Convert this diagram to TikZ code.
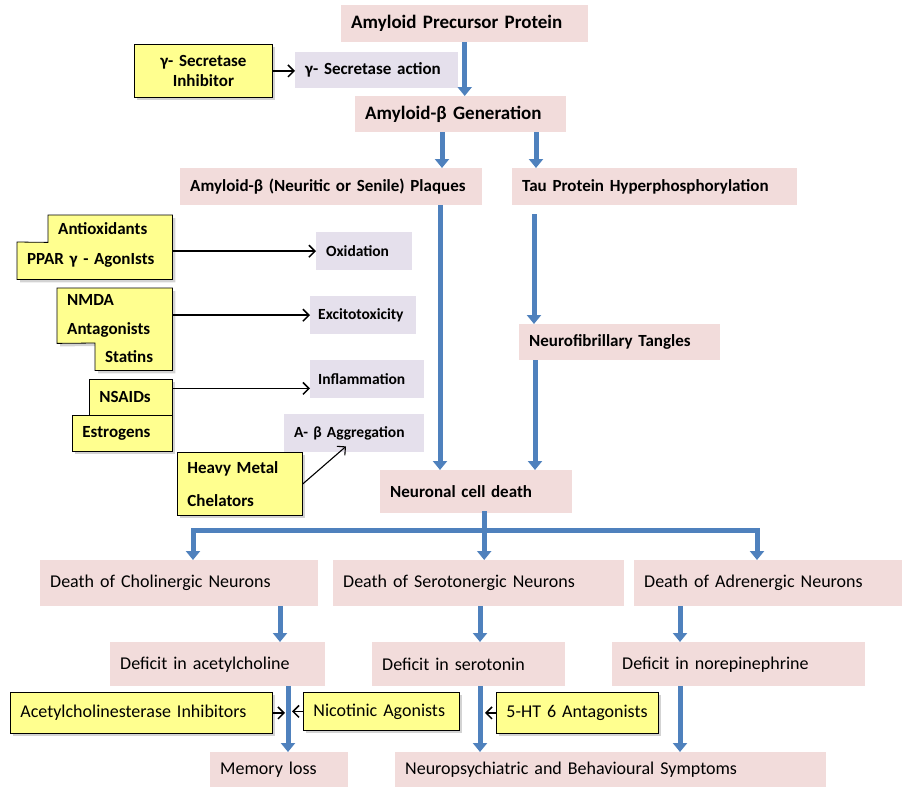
\documentclass[tikz,border=0pt]{standalone}
\usepackage{fontspec}
\setmainfont{Carlito}
\usetikzlibrary{arrows.meta,shadows,backgrounds}
\definecolor{boxpink}{HTML}{F2DCDB}
\definecolor{boxlav}{HTML}{E5E0EC}
\definecolor{boxyel}{HTML}{FFFF8F}
\definecolor{flowblue}{HTML}{4F81BD}
\tikzset{
  every picture/.style={font={\fontsize{17}{20}\selectfont\bfseries}, >={Straight Barb[length=6pt,width=12pt]}}}

\begin{document}
\begin{tikzpicture}[x=1pt, y=-1pt,
    every node/.style={anchor=north west, inner xsep=10pt, inner ysep=0pt, align=left},
    pinkbox/.style={fill=boxpink},
    lavbox/.style={fill=boxlav, font={\fontsize{15.5}{18}\selectfont\bfseries}},
    yelbox/.style={fill=boxyel, draw=black, line width=0.8pt,
      drop shadow={shadow xshift=3pt, shadow yshift=-3pt, opacity=0.35}},
    lowtext/.style={font={\fontsize{18}{21}\selectfont}},
    flow/.style={draw=flowblue, line width=5pt, -{Triangle[width=14pt,length=9pt]}},
    flowbar/.style={draw=flowblue, line width=5pt, line cap=rect},
    link/.style={draw=black, line width=1.5pt, ->}]

    \useasboundingbox (0,0) rectangle (902,787);

    \node[pinkbox, text width=227pt, minimum height=37pt, font={\fontsize{19}{22}\selectfont\bfseries}] (app) at (341,5) {Amyloid Precursor Protein};
    \node[lavbox, text width=143pt, minimum height=36pt, font={\fontsize{17}{20}\selectfont\bfseries}] (gsa) at (295,52) {γ- Secretase action};
    \node[yelbox, text width=118pt, minimum height=53pt, align=center] (gsi) at (134,44) {γ- Secretase\\Inhibitor};
    \node[pinkbox, text width=191pt, minimum height=36pt, font={\fontsize{19}{22}\selectfont\bfseries}] (gen) at (355,96) {Amyloid-β Generation};
    \node[pinkbox, text width=282pt, minimum height=37pt] (plq) at (180,168) {Amyloid-β (Neuritic or Senile) Plaques};
    \node[pinkbox, text width=265pt, minimum height=37pt] (tau) at (512,168) {Tau Protein Hyperphosphorylation};
    \node[pinkbox, text width=181pt, minimum height=36pt] (tangle) at (519,324) {Neurofibrillary Tangles};
    \node[pinkbox, text width=172pt, minimum height=43pt] (ncd) at (380,470) {Neuronal cell death};

    \node[lavbox, text width=76pt, minimum height=38pt] (ox) at (316,232) {Oxidation};
    \node[lavbox, inner xsep=8pt, text width=90pt, minimum height=38pt] (exc) at (310,296) {Excitotoxicity};
    \node[lavbox, inner xsep=8pt, text width=98pt, minimum height=38pt] (infl) at (310,360) {Inflammation};
    \node[lavbox, text width=120pt, minimum height=38pt] (agg) at (284,414) {A- β Aggregation};

    \node[text width=104pt, minimum height=27pt] (antiox) at (48,215) {Antioxidants};
    \node[text width=135pt, minimum height=37pt] (ppar) at (17,242) {PPAR γ - AgonIsts};
    \node[text width=95pt, minimum height=55pt, font={\fontsize{17}{29}\selectfont\bfseries}] (nmda) at (57,288) {NMDA\\Antagonists};
    \node[text width=57pt, minimum height=27pt] (statins) at (95,343) {Statins};
    \begin{scope}[on background layer]
      \draw[yelbox] (antiox.north west) -| (ppar.south east) -| (ppar.north west) -- (antiox.south west) -- cycle;
      \draw[yelbox] (nmda.north west) -| (statins.south east) -| (statins.north west) -- (nmda.south west) -- cycle;
    \end{scope}
    \node[yelbox, text width=63pt, minimum height=36pt] (nsaid) at (89,379) {NSAIDs};
    \node[yelbox, text width=80pt, minimum height=36pt] (estro) at (72,415) {Estrogens};
    \node[yelbox, text width=105pt, minimum height=63pt, font={\fontsize{17}{33}\selectfont\bfseries}] (hmc) at (177,452) {Heavy Metal\\Chelators};

    \node[pinkbox, lowtext, text width=258pt, minimum height=46pt] (dchol) at (40,560) {Death of Cholinergic Neurons};
    \node[pinkbox, lowtext, text width=271pt, minimum height=46pt] (dser) at (333,560) {Death of Serotonergic Neurons};
    \node[pinkbox, lowtext, text width=248pt, minimum height=46pt] (dadr) at (634,560) {Death of Adrenergic Neurons};
    \node[pinkbox, lowtext, text width=195pt, minimum height=44pt] (dach) at (110,642) {Deficit in acetylcholine};
    \node[pinkbox, lowtext, text width=173pt, minimum height=44pt] (dsero) at (372,642) {Deficit in serotonin};
    \node[pinkbox, lowtext, text width=233pt, minimum height=44pt] (dnor) at (612,642) {Deficit in norepinephrine};
    \node[pinkbox, lowtext, text width=118pt, minimum height=35pt] (memory) at (210,752) {Memory loss};
    \node[pinkbox, lowtext, text width=411pt, minimum height=35pt] (neuro) at (395,752) {Neuropsychiatric and Behavioural Symptoms};
    \node[yelbox, lowtext, text width=242pt, minimum height=41pt] (ache) at (10,692) {Acetylcholinesterase Inhibitors};
    \node[yelbox, lowtext, text width=136pt, minimum height=38pt] (nic) at (303,692) {Nicotinic Agonists};
    \node[yelbox, lowtext, text width=142pt, minimum height=41pt] (ht) at (496,692) {5-HT 6 Antagonists};

    \draw[flow] (app.south) -- (app.south |- gen.north);
    \draw[link] (gsi.east) -- (gsi.east -| gsa.west);
    \draw[flow] ([xshift=87pt]gen.south west) -- ([xshift=87pt]gen.south west |- plq.north);
    \draw[flow] ([xshift=181pt]gen.south west) -- ([xshift=181pt]gen.south west |- tau.north);
    \draw[flow] ([xshift=260pt]plq.south west) -- ([xshift=260pt]plq.south west |- ncd.north);
    \coordinate (tauout) at ([yshift=-9pt]tau.south);
    \draw[flow] ([xshift=15pt]tangle.north west |- tauout) -- ([xshift=15pt]tangle.north west);
    \draw[flow] ([xshift=16pt]tangle.south west) -- ([xshift=16pt]tangle.south west |- ncd.north);

    \draw[link] (ox.west -| ppar.east) -- (ox.west);
    \draw[link] (exc.west -| nmda.east) -- (exc.west);
    \draw[link] ([yshift=9pt]nsaid.east) -- ([yshift=9pt]nsaid.east -| infl.west);
    \draw[link, line width=1.1pt] (hmc.east) -- ([xshift=62pt,yshift=6pt]agg.south west);

    \coordinate (split) at ([xshift=8pt,yshift=-17pt]ncd.south);
    \draw[flowbar] ([xshift=8pt]ncd.south) -- (split);
    \draw[flowbar] ([xshift=153pt]dchol.north west |- split) -- ([xshift=123pt]dadr.north west |- split);
    \draw[flow] ([xshift=153pt]dchol.north west |- split) -- ([xshift=153pt]dchol.north west);
    \draw[flow] (split) -- (split |- dser.north);
    \draw[flow] ([xshift=123pt]dadr.north west |- split) -- ([xshift=123pt]dadr.north west);

    \draw[flow] ([xshift=170pt]dach.north west |- dchol.south) -- ([xshift=170pt]dach.north west);
    \draw[flow] ([xshift=108pt]dsero.north west |- dser.south) -- ([xshift=108pt]dsero.north west);
    \draw[flow] ([xshift=68pt]dnor.north west |- dadr.south) -- ([xshift=68pt]dnor.north west);
    \draw[flow] ([xshift=78pt]memory.north west |- dach.south) -- ([xshift=78pt]memory.north west);
    \draw[flow] ([xshift=85pt]neuro.north west |- dsero.south) -- ([xshift=85pt]neuro.north west);
    \draw[flow] ([xshift=285pt]neuro.north west |- dnor.south) -- ([xshift=285pt]neuro.north west);

    \coordinate (memL) at ([xshift=75pt]memory.north west);
    \coordinate (memR) at ([xshift=82pt]memory.north west);
    \coordinate (neuL) at ([xshift=90pt]neuro.north west);
    \draw[link] (ache.east) -- (ache.east -| memL);
    \draw[link] (nic.west) -- (nic.west -| memR);
    \draw[link] (ht.west) -- (ht.west -| neuL);
\end{tikzpicture}
\end{document}
